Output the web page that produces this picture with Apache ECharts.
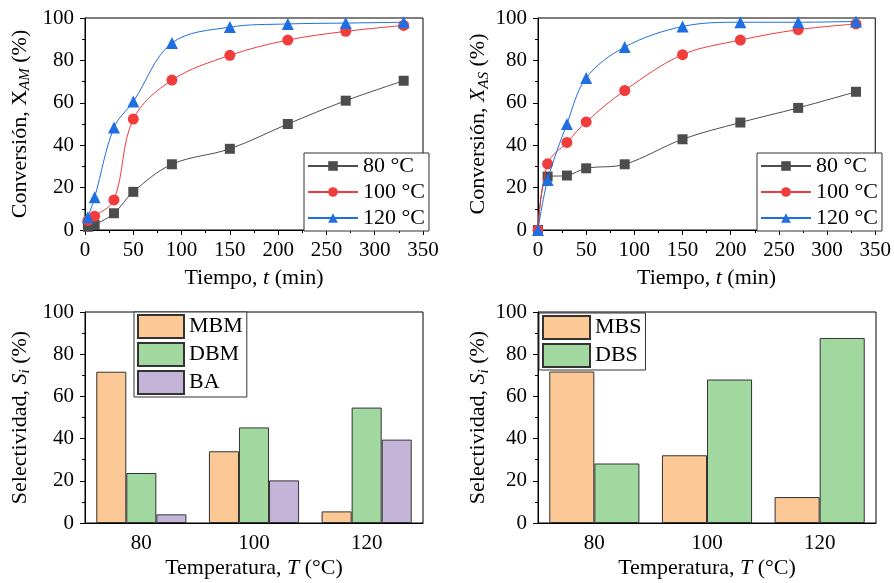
<!DOCTYPE html>
<html>
<head>
<meta charset="utf-8">
<script src="https://cdn.jsdelivr.net/npm/echarts@6/dist/echarts.min.js"></script>
<style>
  html, body { margin: 0; padding: 0; background: #fff; }
  #chart { width: 894px; height: 583px; }
</style>
</head>
<body>
<div id="chart"></div>
<script>
  // conversion vs time, left panel (X_AM)
  let timeAM = [3, 10, 30, 50, 90, 150, 210, 270, 330];
  let am80 = [1.5, 2.4, 7.9, 18, 31, 38.3, 50, 61, 70.4];
  let am100 = [4.5, 6.5, 14.2, 52.3, 70.7, 82.4, 89.6, 93.7, 96.5];
  let am120 = [6, 15.4, 48.3, 60.6, 88.2, 95.7, 97.2, 97.6, 98];

  // conversion vs time, right panel (X_AS)
  let timeAS = [0, 10, 30, 50, 90, 150, 210, 270, 330];
  let as80 = [0, 25.2, 25.7, 29.1, 31, 42.8, 50.7, 57.6, 65.2];
  let as100 = [0, 31.2, 41.3, 51, 65.8, 82.7, 89.6, 94.5, 97.2];
  let as120 = [0, 23.6, 50, 71.7, 86.3, 96, 98, 98, 98.4];

  // selectivity bars
  let tempCats = ['80', '100', '120'];
  let mbm = [71.7, 34, 5.5];
  let dbm = [23.7, 45.3, 54.7];
  let ba = [4.1, 20.2, 39.5];
  let mbs = [71.8, 32.1, 12.3];
  let dbs = [28.2, 68, 87.7];

  let seriesNames = ['80 °C', '100 °C', '120 °C'];

  let font = "'Liberation Serif', 'Times New Roman', serif";
  let nameRich = {
    n: { fontSize: 22, fontFamily: font, color: '#000', lineHeight: 26 },
    i: { fontSize: 22, fontFamily: font, color: '#000', fontStyle: 'italic', lineHeight: 26 },
    s: { fontSize: 15, fontFamily: font, color: '#000', fontStyle: 'italic', lineHeight: 14, verticalAlign: 'bottom' }
  };

  function pairXY(xs, ys) {
    return xs.map((x, k) => [x, ys[k]]);
  }

  function valueX(idx) {
    return {
      type: 'value', gridIndex: idx, min: 0, max: 350, interval: 50,
      name: '{n|Tiempo, }{i|t}{n| (min)}', nameLocation: 'middle', nameGap: 35,
      nameTextStyle: { rich: nameRich },
      axisLine: { lineStyle: { color: '#000', width: 1 } },
      axisTick: { length: 5, lineStyle: { color: '#000' } },
      minorTick: { show: true, splitNumber: 2, length: 3, lineStyle: { color: '#000' } },
      axisLabel: { fontSize: 21, fontFamily: font, color: '#000', margin: 10 },
      splitLine: { show: false }
    };
  }

  function valueY(idx, name, gap) {
    return {
      type: 'value', gridIndex: idx, min: 0, max: 100, interval: 20,
      name: name, nameLocation: 'middle', nameGap: gap, nameRotate: 90,
      nameTextStyle: { rich: nameRich },
      axisLine: { show: true, lineStyle: { color: '#000', width: 1 } },
      axisTick: { show: true, length: 5, lineStyle: { color: '#000' } },
      minorTick: { show: true, splitNumber: 2, length: 3, lineStyle: { color: '#000' } },
      axisLabel: { fontSize: 21, fontFamily: font, color: '#000', margin: 11 },
      splitLine: { show: false }
    };
  }

  function catX(idx) {
    return {
      type: 'category', gridIndex: idx, data: tempCats,
      name: '{n|Temperatura, }{i|T}{n| (°C)}', nameLocation: 'middle', nameGap: 32,
      nameTextStyle: { rich: nameRich },
      axisLine: { lineStyle: { color: '#000', width: 1 } },
      axisTick: { alignWithLabel: true, length: 5, lineStyle: { color: '#000' } },
      axisLabel: { fontSize: 21, fontFamily: font, color: '#000', margin: 10 },
      splitLine: { show: false }
    };
  }

  let lineStyles = [
    { color: '#4d4d4d', symbol: 'rect', size: 10 },
    { color: '#f03c3c', symbol: 'circle', size: 11 },
    { color: '#1f6fe0', symbol: 'triangle', size: 12 }
  ];

  function lineSeries(k, idx, xs, ys) {
    let st = lineStyles[k];
    return {
      name: seriesNames[k], type: 'line', xAxisIndex: idx, yAxisIndex: idx,
      data: pairXY(xs, ys), smooth: 0.35,
      symbol: st.symbol, symbolSize: st.size,
      lineStyle: { color: st.color, width: 1 },
      itemStyle: { color: st.color },
      z: 2 + k
    };
  }

  function barSeries(name, color, idx, data) {
    return {
      name: name, type: 'bar', xAxisIndex: idx, yAxisIndex: idx, data: data,
      barGap: '0%', barCategoryGap: '20%',
      itemStyle: { color: color, borderColor: '#333', borderWidth: 1 }
    };
  }

  let legendBase = {
    orient: 'vertical',
    borderColor: '#333', borderWidth: 1, backgroundColor: '#fff',
    textStyle: { fontSize: 22, fontFamily: font, color: '#000', lineHeight: 22 }
  };

  let myChart = echarts.init(document.getElementById('chart'), null, { renderer: 'canvas' });
  let option = {
    animation: false,
    backgroundColor: '#fff',
    grid: [
      { left: 85, top: 18, width: 338, height: 212, show: true, borderColor: '#000', borderWidth: 1 },
      { left: 538, top: 18, width: 338, height: 212, show: true, borderColor: '#000', borderWidth: 1 },
      { left: 85, top: 312, width: 338, height: 211, show: true, borderColor: '#000', borderWidth: 1 },
      { left: 538, top: 312, width: 338, height: 211, show: true, borderColor: '#000', borderWidth: 1 }
    ],
    xAxis: [valueX(0), valueX(1), catX(2), catX(3)],
    yAxis: [
      valueY(0, '{n|Conversión, X}{s|AM}{n| (%)}', 52),
      valueY(1, '{n|Conversión, }{i|X}{s|AS}{n| (%)}', 43),
      valueY(2, '{n|Selectividad, }{i|S}{s|i}{n| (%)}', 52),
      valueY(3, '{n|Selectividad, }{i|S}{s|i}{n| (%)}', 43)
    ],
    legend: [
      Object.assign({}, legendBase, {
        data: seriesNames, left: 304, top: 153, padding: [2, 4, 2, 3],
        itemWidth: 50, itemHeight: 12, itemGap: 4
      }),
      Object.assign({}, legendBase, {
        data: seriesNames, left: 757, top: 153, padding: [2, 4, 2, 3],
        itemWidth: 50, itemHeight: 12, itemGap: 4
      }),
      Object.assign({}, legendBase, {
        data: ['MBM', 'DBM', 'BA'], left: 134, top: 312, padding: [2, 4, 2, 3],
        icon: 'rect', itemWidth: 46, itemHeight: 23, itemGap: 3
      }),
      Object.assign({}, legendBase, {
        data: ['MBS', 'DBS'], left: 539, top: 313, padding: [2, 4, 2, 3],
        icon: 'rect', itemWidth: 47, itemHeight: 23, itemGap: 3
      })
    ],
    series: [
      lineSeries(0, 0, timeAM, am80),
      lineSeries(1, 0, timeAM, am100),
      lineSeries(2, 0, timeAM, am120),
      lineSeries(0, 1, timeAS, as80),
      lineSeries(1, 1, timeAS, as100),
      lineSeries(2, 1, timeAS, as120),
      barSeries('MBM', '#fcc896', 2, mbm),
      barSeries('DBM', '#a0d8a0', 2, dbm),
      barSeries('BA', '#c4b4d8', 2, ba),
      barSeries('MBS', '#fcc896', 3, mbs),
      barSeries('DBS', '#a0d8a0', 3, dbs)
    ]
  };
  myChart.setOption(option);
</script>
</body>
</html>
